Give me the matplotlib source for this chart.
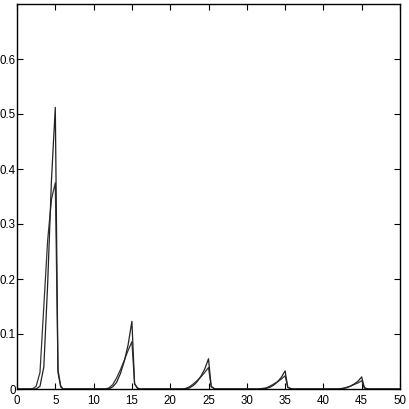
import matplotlib
matplotlib.use("Agg")
import matplotlib.pyplot as plt

# x sample positions (shared by both series)
x_vals = [0, 2, 2.5, 3, 3.5, 4, 4.5, 5, 5.35, 5.7, 6,
          11.5, 12, 12.5, 13, 13.5, 14, 14.5, 15, 15.35, 15.7, 16,
          21.5, 22, 22.5, 23, 23.5, 24, 24.5, 25, 25.35, 25.7, 26,
          31.5, 32, 32.5, 33, 33.5, 34, 34.5, 35, 35.35, 35.7, 36,
          41.5, 42, 42.5, 43, 43.5, 44, 44.5, 45, 45.35, 45.7, 46, 50]

# sharper series (higher peaks)
series_a = [0, 0, 0, 0.005, 0.04, 0.19, 0.38, 0.512, 0.03, 0.004, 0,
            0, 0, 0.004, 0.012, 0.028, 0.05, 0.08, 0.123, 0.009, 0.002, 0,
            0, 0, 0.002, 0.006, 0.013, 0.023, 0.036, 0.055, 0.005, 0.001, 0,
            0, 0, 0.001, 0.003, 0.007, 0.013, 0.021, 0.033, 0.003, 0.001, 0,
            0, 0, 0.001, 0.002, 0.005, 0.009, 0.014, 0.022, 0.002, 0.0005, 0, 0]

# wider series (lower peaks)
series_b = [0, 0, 0.005, 0.03, 0.15, 0.27, 0.345, 0.375, 0.035, 0.006, 0,
            0, 0.002, 0.008, 0.02, 0.035, 0.052, 0.07, 0.086, 0.01, 0.002, 0,
            0, 0.001, 0.004, 0.009, 0.015, 0.022, 0.03, 0.039, 0.004, 0.001, 0,
            0, 0.001, 0.002, 0.005, 0.009, 0.013, 0.018, 0.024, 0.003, 0.001, 0,
            0, 0.0005, 0.001, 0.003, 0.005, 0.008, 0.011, 0.015, 0.002, 0.0005, 0, 0]

x_ticks = [0, 5, 10, 15, 20, 25, 30, 35, 40, 45, 50]
y_ticks = [0, 0.1, 0.2, 0.3, 0.4, 0.5, 0.6]
y_labels = ["0", "0.1", "0.2", "0.3", "0.4", "0.5", "0.6"]

plt.rcParams['font.family'] = ['Liberation Sans Narrow', 'Liberation Sans', 'DejaVu Sans']

fig = plt.figure(figsize=(4.09, 4.09), dpi=100)
ax = fig.add_axes([17/409, 20/409, 383/409, 385/409])

ax.plot(x_vals, series_b, color='#333333', lw=0.9)
ax.plot(x_vals, series_a, color='#222222', lw=0.9)

ax.set_xlim(0, 50)
ax.set_ylim(0, 0.7)
ax.set_xticks(x_ticks)
ax.set_xticklabels([str(t) for t in x_ticks])
ax.set_yticks(y_ticks)
ax.set_yticklabels(y_labels)
ax.tick_params(direction='in', length=4, width=0.8, top=True, right=True,
               labelsize=8.3, colors='black')
ax.tick_params(axis='y', pad=1)
ax.tick_params(axis='x', pad=4.5)
for s in ax.spines.values():
    s.set_linewidth(1.0)
    s.set_color('black')

fig.savefig("out.png", dpi=100)
